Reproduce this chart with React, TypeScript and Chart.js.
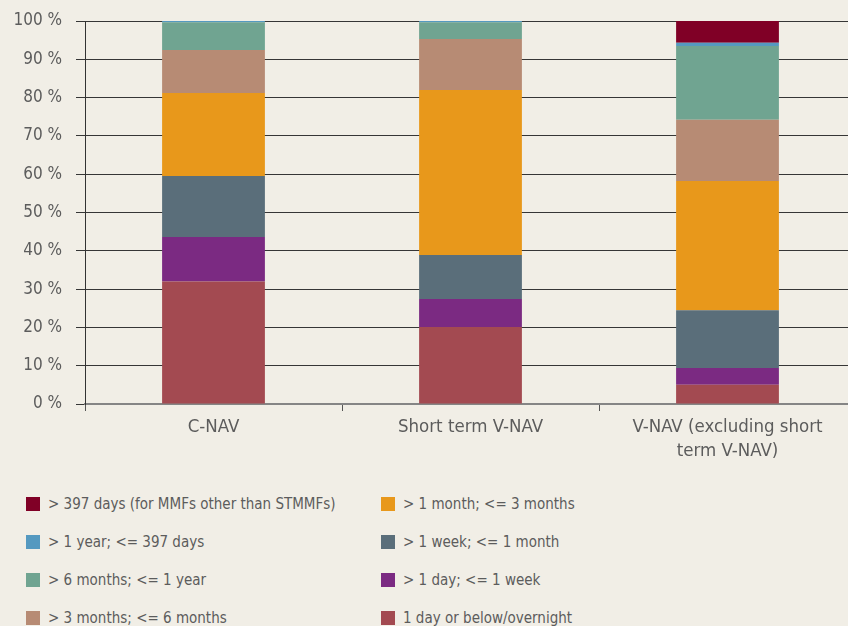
import React, { useEffect, useRef } from 'react';
import { Chart, registerables } from 'chart.js';

Chart.register(...registerables);

// ---- data ----
const categories: (string | string[])[] = ['C-NAV', 'Short term V-NAV', ['V-NAV (excluding short', 'term V-NAV)']];

const seriesNames = [
  '1 day or below/overnight',
  '> 1 day; <= 1 week',
  '> 1 week; <= 1 month',
  '> 1 month; <= 3 months',
  '> 3 months; <= 6 months',
  '> 6 months; <= 1 year',
  '> 1 year; <= 397 days',
  '> 397 days (for MMFs other than STMMFs)',
];

const seriesColors = ['#a34a51', '#7b2a82', '#5a6e7a', '#e8981b', '#b78b74', '#70a491', '#5599c0', '#800026'];

const overnight = [32.0, 20.1, 5.0];
const dayToWeek = [11.6, 7.3, 4.4];
const weekToMonth = [15.9, 11.5, 15.1];
const monthTo3Months = [21.7, 43.1, 33.7];
const months3To6 = [11.2, 13.3, 16.0];
const months6ToYear = [7.3, 4.4, 19.3];
const yearTo397 = [0.3, 0.3, 0.8];
const over397 = [0.0, 0.0, 5.7];

const seriesValues = [overnight, dayToWeek, weekToMonth, monthTo3Months, months3To6, months6ToYear, yearTo397, over397];

const yMin = 0;
const yMax = 100;
const yStep = 10;

const FONT = "'DejaVu Sans Condensed', 'DejaVu Sans', sans-serif";
const TEXT = '#5c5c5c';
const BG = '#f1eee6';

export default function App() {
  const canvasRef = useRef<HTMLCanvasElement | null>(null);

  useEffect(() => {
    const canvas = canvasRef.current;
    if (!canvas) return;
    const chart = new Chart(canvas, {
      type: 'bar',
      data: {
        labels: categories as any,
        datasets: seriesNames.map((name, i) => ({
          label: name,
          data: seriesValues[i],
          backgroundColor: seriesColors[i],
          borderWidth: 0,
          barPercentage: 0.4,
          categoryPercentage: 1,
        })),
      },
      options: {
        responsive: false,
        animation: false,
        layout: { padding: { top: 21, left: 0, right: 0, bottom: 0 } },
        plugins: {
          legend: { display: false },
          tooltip: { enabled: false },
        },
        scales: {
          x: {
            stacked: true,
            offset: true,
            grid: {
              display: true,
              drawOnChartArea: false,
              drawTicks: true,
              tickLength: 7,
              color: '#555',
              lineWidth: 1,
            },
            border: { display: true, color: '#858585', width: 2 },
            ticks: {
              color: TEXT,
              font: { family: FONT, size: 18.5, lineHeight: 1.3 },
              padding: 4,
              maxRotation: 0,
              autoSkip: false,
            },
            afterFit: (scale: any) => {
              scale.height = 76;
              scale.paddingLeft = 0;
              scale.paddingRight = 0;
            },
          },
          y: {
            stacked: true,
            min: yMin,
            max: yMax,
            grid: {
              color: '#363636',
              lineWidth: 1,
              drawTicks: true,
              tickLength: 9,
            },
            border: { display: true, color: '#333', width: 1 },
            ticks: {
              stepSize: yStep,
              color: TEXT,
              font: { family: FONT, size: 17 },
              padding: 14,
              callback: (v: any) => `${v} %`,
            },
            afterFit: (scale: any) => {
              scale.width = 85;
              scale.paddingTop = 0;
              scale.paddingBottom = 0;
            },
          },
        },
      },
    });
    return () => chart.destroy();
  }, []);

  const legendOrder = seriesNames.map((_, i) => seriesNames.length - 1 - i);
  const columns = [legendOrder.slice(0, 4), legendOrder.slice(4)];
  const colX = [26, 381];

  return (
    <div
      style={{
        position: 'fixed',
        left: 0,
        top: 0,
        width: 848,
        height: 626,
        overflow: 'hidden',
        background: BG,
      }}
    >
      <canvas
        ref={canvasRef}
        width={856}
        height={480}
        style={{ position: 'absolute', left: 0, top: 0, width: 856, height: 480 }}
      />
      {columns.map((col, c) =>
        col.map((idx, r) => (
          <div
            key={`${c}-${r}`}
            style={{
              position: 'absolute',
              left: colX[c],
              top: 504 + r * 38 - 10,
              height: 20,
              display: 'flex',
              alignItems: 'center',
              whiteSpace: 'nowrap',
              fontFamily: FONT,
              fontSize: 15,
              color: TEXT,
            }}
          >
            <span
              style={{
                display: 'inline-block',
                width: 14,
                height: 14,
                background: seriesColors[idx],
                marginRight: 8,
              }}
            />
            <span>{seriesNames[idx]}</span>
          </div>
        ))
      )}
    </div>
  );
}
